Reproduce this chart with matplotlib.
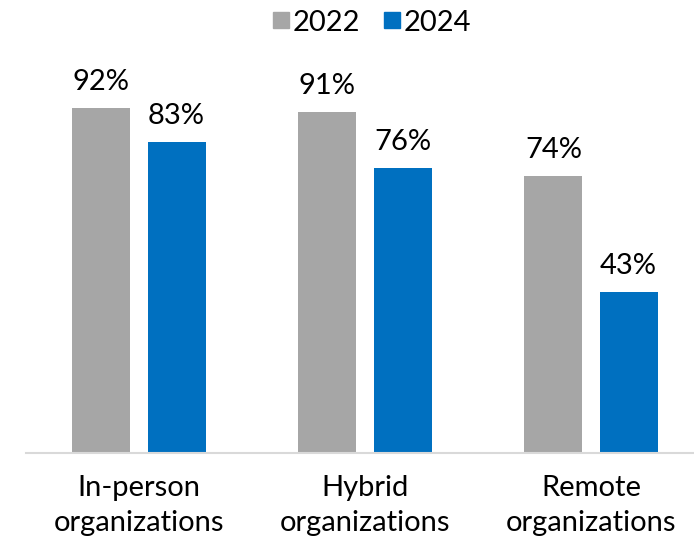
import numpy as np
import matplotlib.pyplot as plt
from matplotlib.lines import Line2D

# données
categories = ["In-person\norganizations", "Hybrid\norganizations", "Remote\norganizations"]
annees = ["2022", "2024"]
valeurs_2022 = [92, 91, 74]
valeurs_2024 = [83, 76, 43]

couleurs = ["#a6a6a6", "#0070c0"]

plt.rcParams['font.family'] = ['Lato', 'DejaVu Sans']

fig = plt.figure(figsize=(6.94, 5.39), dpi=100)
ax = fig.add_axes([26/694, 86/539, 678/694, 375/539])

x = np.arange(len(categories))
largeur = 0.2566
decalage = 0.166

barres1 = ax.bar(x - decalage, valeurs_2022, largeur, color=couleurs[0])
barres2 = ax.bar(x + decalage, valeurs_2024, largeur, color=couleurs[1])

for barres in (barres1, barres2):
    for b in barres:
        ax.annotate(f"{int(b.get_height())}%", (b.get_x() + b.get_width()/2, b.get_height()),
                    xytext=(0, 9), textcoords='offset points', ha='center', va='bottom',
                    fontsize=21, color='black', annotation_clip=False)

ax.set_xlim(-0.5, 2.5)
ax.set_ylim(0, 100)
ax.set_yticks([])
ax.set_xticks(x)
ax.set_xticklabels(categories, fontsize=21, linespacing=1.4)
ax.tick_params(axis='x', length=0, pad=16)

for s in ['top', 'right', 'left']:
    ax.spines[s].set_visible(False)
ax.spines['bottom'].set_color('#d9d9d9')
ax.spines['bottom'].set_linewidth(1.5)

# légende
handles = [Line2D([], [], marker='s', linestyle='none', markersize=12, color=c) for c in couleurs]
fig.legend(handles, annees, loc='center', bbox_to_anchor=(0.533, 0.958), ncol=2, frameon=False,
           fontsize=21, handletextpad=0.0, columnspacing=0.7, handlelength=0.8)

plt.savefig("out.png", dpi=100)
